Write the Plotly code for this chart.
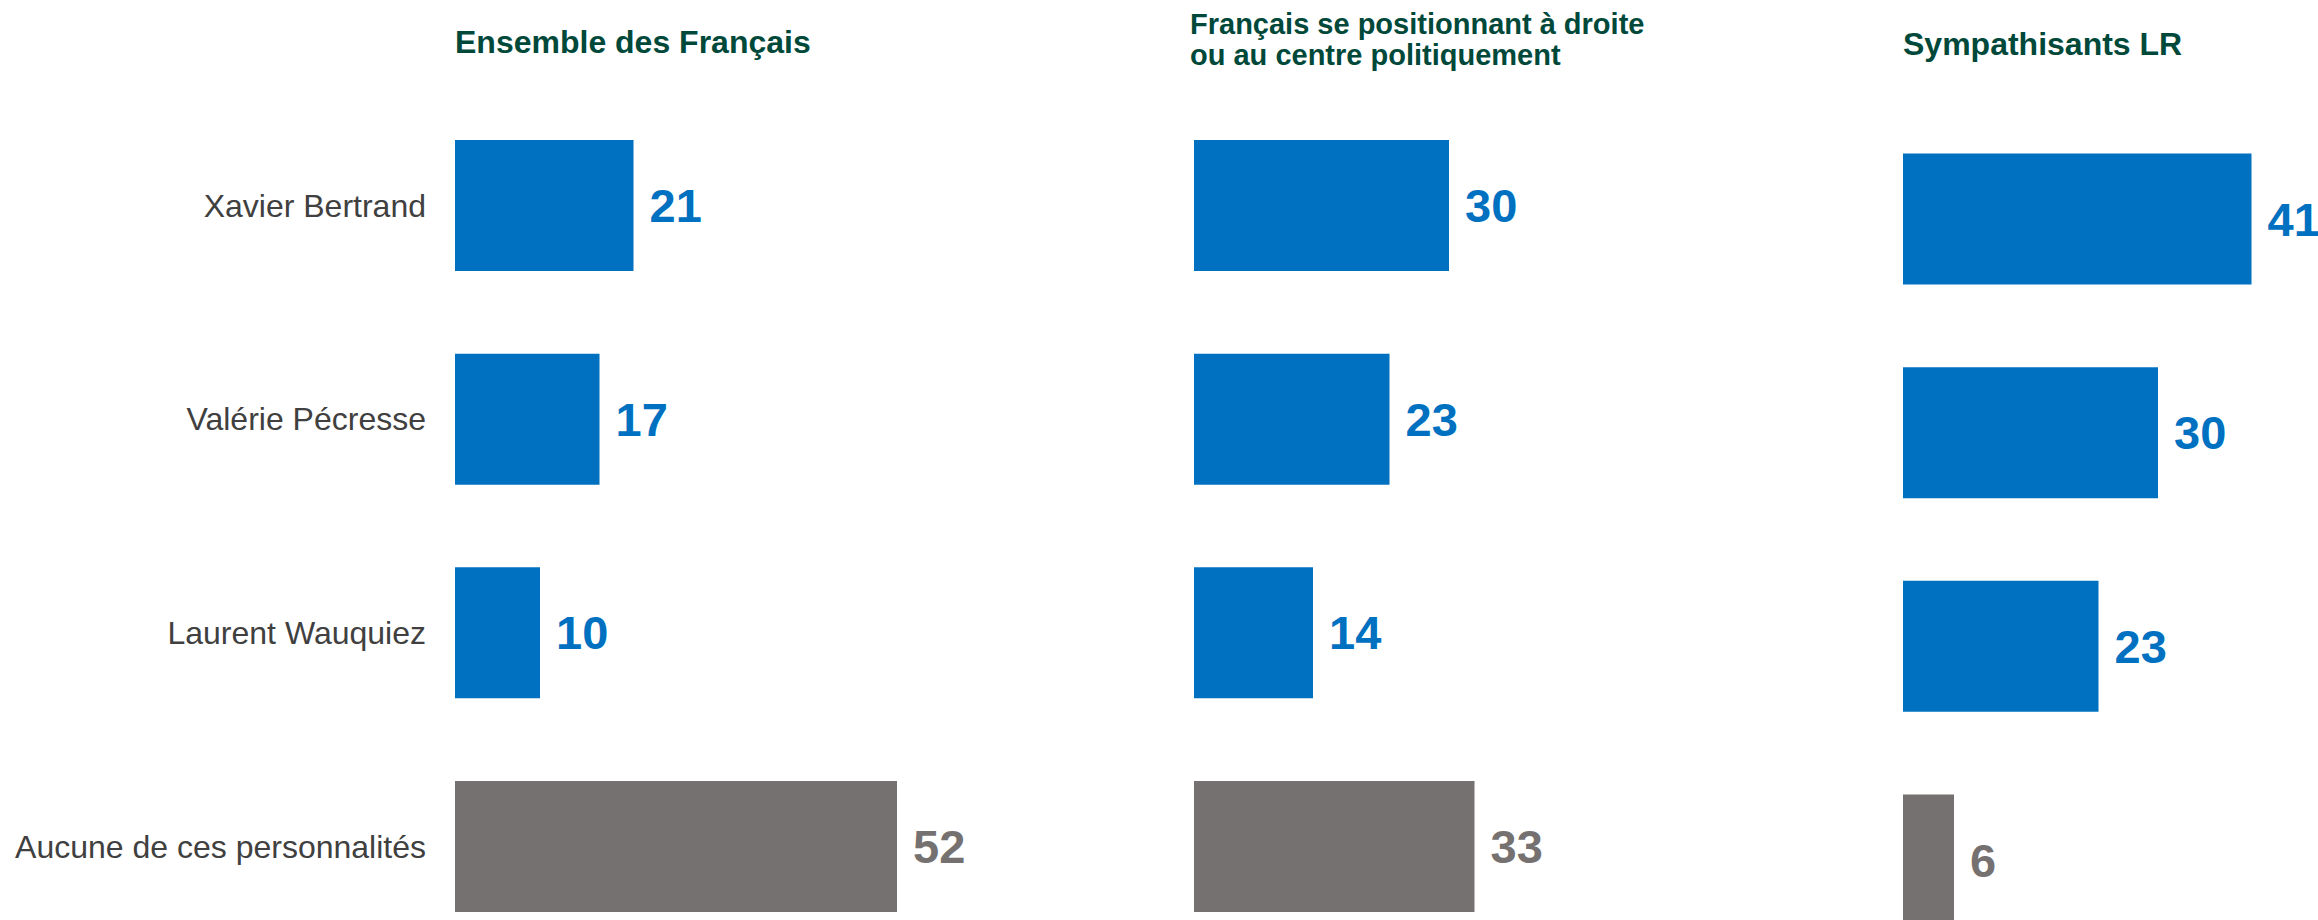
import plotly.graph_objects as go

# ---------------- data ----------------
categories = ["Xavier Bertrand", "Valérie Pécresse", "Laurent Wauquiez", "Aucune de ces personnalités"]
ensemble_des_francais = [21, 17, 10, 52]
droite_ou_centre = [30, 23, 14, 33]
sympathisants_lr = [41, 30, 23, 6]
panel_titles = [
    ["Ensemble des Français"],
    ["Français se positionnant à droite", "ou au centre politiquement"],
    ["Sympathisants LR"],
]

# ---------------- style ----------------
W, H = 2318, 920
BLUE = "#0070C0"
GRAY = "#767171"
GREEN = "#00493A"
LABEL = "#404040"
FONT = "Liberation Sans"
PX_PER_UNIT = 8.5
ROW_PX = 213.67
BAR_W = 0.613

bar_colors = [BLUE, BLUE, BLUE, GRAY]

# panel geometry in pixels: (x start, x end, y center of first row)
panels = [
    (455, 1100, 205.5),
    (1194, 1850, 205.5),
    (1903, W, 219.0),
]
series = [ensemble_des_francais, droite_ou_centre, sympathisants_lr]

fig = go.Figure()
layout_axes = {}
for i, (vals, (x0, x1, yc)) in enumerate(zip(series, panels)):
    n = "" if i == 0 else str(i + 1)
    fig.add_trace(go.Bar(
        x=vals,
        y=categories,
        orientation="h",
        width=BAR_W,
        marker=dict(color=bar_colors, line=dict(width=0)),
        text=["\u00a0" + str(v) for v in vals],
        textposition="outside",
        textfont=dict(family=FONT, size=47, color=bar_colors, weight=700),
        constraintext="none",
        cliponaxis=False,
        xaxis="x" + n,
        yaxis="y" + n,
        showlegend=False,
        hoverinfo="skip",
    ))
    top_val = -yc / ROW_PX
    bot_val = top_val + H / ROW_PX
    layout_axes["xaxis" + n] = dict(
        domain=[x0 / W, x1 / W],
        range=[0, (x1 - x0) / PX_PER_UNIT],
        visible=False,
        fixedrange=True,
        anchor="y" + n,
    )
    layout_axes["yaxis" + n] = dict(
        domain=[0, 1],
        range=[bot_val, top_val],
        type="category",
        categoryorder="array",
        categoryarray=categories,
        showgrid=False,
        zeroline=False,
        showline=False,
        ticks="",
        showticklabels=(i == 0),
        ticklabelstandoff=28,
        tickfont=dict(family=FONT, size=32, color=LABEL),
        anchor="x" + n,
        fixedrange=True,
    )

annotations = []
# title 1
annotations.append(dict(text=panel_titles[0][0], x=453 / W, y=1 - 42 / H, xref="paper", yref="paper",
                        xanchor="left", yanchor="middle", showarrow=False,
                        font=dict(family=FONT, size=32, color=GREEN, weight=700)))
# title 2 (two lines)
for line, ycen in zip(panel_titles[1], [24, 55]):
    annotations.append(dict(text=line, x=1188 / W, y=1 - ycen / H, xref="paper", yref="paper",
                            xanchor="left", yanchor="middle", showarrow=False,
                            font=dict(family=FONT, size=29, color=GREEN, weight=700)))
# title 3
annotations.append(dict(text=panel_titles[2][0], x=1901 / W, y=1 - 44 / H, xref="paper", yref="paper",
                        xanchor="left", yanchor="middle", showarrow=False,
                        font=dict(family=FONT, size=32, color=GREEN, weight=700)))

fig.update_layout(
    width=W,
    height=H,
    margin=dict(l=0, r=0, t=0, b=0),
    paper_bgcolor="white",
    plot_bgcolor="white",
    annotations=annotations,
    **layout_axes,
)

fig.write_html(
    "out.html",
    config={"displayModeBar": False},
    post_script="document.body.style.margin='0';document.body.style.overflow='hidden';",
)
